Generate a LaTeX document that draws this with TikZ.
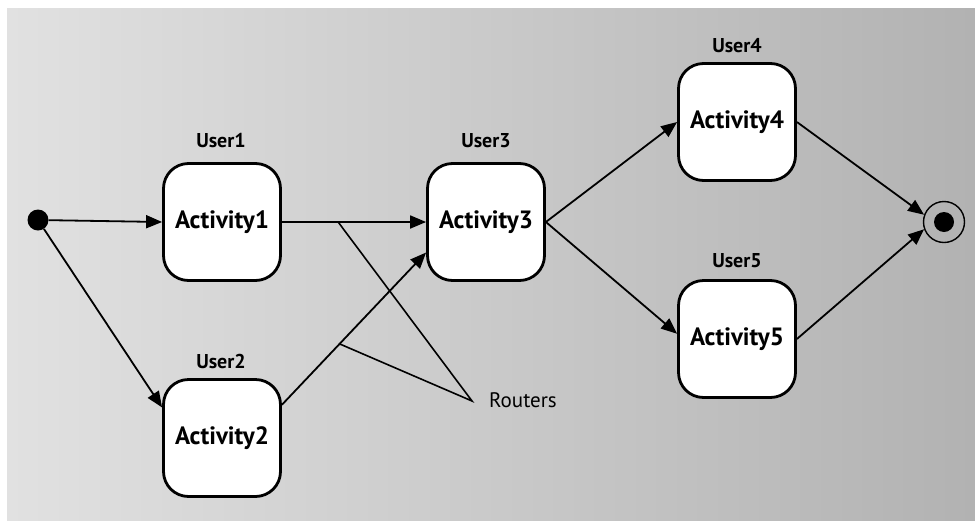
\documentclass[tikz,border=0pt]{standalone}
\usepackage{fontspec}
\setmainfont{PT Sans}
\usetikzlibrary{arrows.meta,calc}

\definecolor{bgleft}{RGB}{225,225,225}
\definecolor{bgright}{RGB}{178,178,178}

\tikzset{
  activity/.style={draw=black, fill=white, line width=2.8pt, rounded corners=25pt,
    minimum width=117pt, minimum height=117pt, inner sep=0pt,
    font=\fontsize{25}{28}\selectfont\bfseries},
  userlbl/.style={font=\fontsize{20}{23}\selectfont\bfseries, inner sep=0pt},
  flow/.style={draw=black, line width=1.8pt, -{Triangle[length=16pt,width=13pt]}},
  router/.style={draw=black, line width=1.6pt},
}

\begin{document}
\begin{tikzpicture}[x=1pt, y=-1pt]
  \useasboundingbox (0,0) rectangle (975,520);
  % backdrop
  \shade[left color=bgleft, right color=bgright] (7,8) rectangle (975,520);

  % initial and final states
  \node[circle, fill=black, minimum size=21pt, inner sep=0pt] (start) at (38,220) {};
  \node[circle, draw=black, fill=none, line width=1.4pt, minimum size=41pt, inner sep=0pt] (final) at (944,222) {};
  \node[circle, fill=black, minimum size=20pt, inner sep=0pt] (finaldot) at (944,222) {};

  % activities
  \node[activity] (act1) at (222,222) {Activity1};
  \node[activity] (act2) at (222,438) {Activity2};
  \node[activity] (act3) at (486,222) {Activity3};
  \node[activity] (act4) at (737,122) {Activity4};
  \node[activity] (act5) at (737,339) {Activity5};

  % performers
  \node[userlbl] (u1) at (221,141) {User1};
  \node[userlbl] (u2) at (221,361) {User2};
  \node[userlbl] (u3) at (486,141) {User3};
  \node[userlbl] (u4) at (737,46) {User4};
  \node[userlbl] (u5) at (737,261) {User5};

  % control flow
  \draw[flow] (start) -- (act1.west);
  \draw[flow] (start) -- (act2.153);
  \draw[flow] (act1.east) -- (act3.west) coordinate[pos=0.39] (r1);
  \draw[flow] (act2.29) -- (act3.207) coordinate[pos=0.40] (r2);
  \draw[flow] (act3.east) -- (act4.west);
  \draw[flow] (act3.east) -- (act5.175);
  \draw[flow] (act4.east) -- (final.160);
  \draw[flow] (act5.east) -- (final.200);

  % router callout
  \coordinate (apex) at (472,401);
  \node[anchor=west, inner sep=0pt, font=\fontsize{21}{24}\selectfont] (routers) at (489,400) {Routers};
  \draw[router] (r1) -- (apex) -- (r2);
\end{tikzpicture}
\end{document}
